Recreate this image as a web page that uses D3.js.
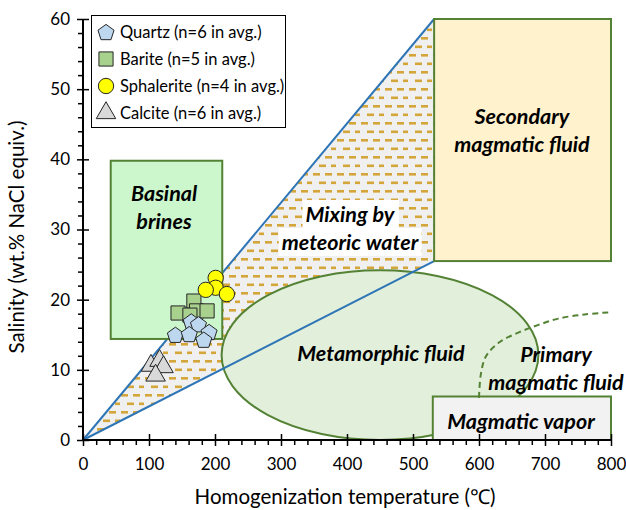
<!DOCTYPE html>
<html>
<head>
<meta charset="utf-8">
<script src="https://cdn.jsdelivr.net/npm/d3@7/dist/d3.min.js"></script>
<style>
  html, body { margin: 0; padding: 0; background: #fff; }
  svg { display: block; font-family: Lato, "Open Sans", sans-serif; }
</style>
</head>
<body>
<svg id="chart" width="626" height="510"></svg>
<script>
// ---- data ----
const quartzT = [164, 175, 140, 161, 191, 183];
const quartzS = [16.9, 16.5, 15.0, 15.1, 15.4, 14.3];
const bariteT = [168, 144, 172, 188, 162];
const bariteS = [19.8, 18.1, 18.4, 18.4, 17.8];
const sphaleriteT = [201, 201, 186, 218];
const sphaleriteS = [23.1, 21.7, 21.4, 20.8];
const calciteT = [103, 116, 122, 110];
const calciteS = [10.6, 11.3, 10.4, 9.2];

const legendLabels = ["Quartz (n=6 in avg.)", "Barite (n=5 in avg.)", "Sphalerite (n=4 in avg.)", "Calcite (n=6 in avg.)"];

const xTicks = [0, 100, 200, 300, 400, 500, 600, 700, 800];
const yTicks = [0, 10, 20, 30, 40, 50, 60];

// fluid fields (temperature °C, salinity wt.%)
const mixingT = [0, 532, 532];
const mixingS = [0, 60, 25.5];
const basinalT = [42, 211];
const basinalS = [14.4, 39.8];
const secondaryT = [532, 800];
const secondaryS = [25.5, 60];
const vaporT = [530, 800];
const vaporS = [0, 6.2];
const metamorphicT = [210, 690];   // left / right extent
const metamorphicS = [0, 24.2];    // bottom / top extent
const primaryT = [600, 603, 611, 632, 662, 690, 720, 760, 800];
const primaryS = [6, 9.5, 12, 14, 15.4, 16.4, 17.3, 17.9, 18.2];

// ---- scales ----
const svg = d3.select("#chart");
const x = d3.scaleLinear().domain([0, 800]).range([83, 611]);
const y = d3.scaleLinear().domain([0, 60]).range([440, 19]);

const green = "#548235";

// dash pattern for the mixing field
const defs = svg.append("defs");
const pat = defs.append("pattern")
  .attr("id", "hatch").attr("patternUnits", "userSpaceOnUse")
  .attr("width", 24).attr("height", 17);
pat.append("rect").attr("width", 24).attr("height", 17).attr("fill", "#f0f0f0");
[[1, 3], [13, 3], [7, 11.5], [19, 11.5]].forEach(d => {
  pat.append("rect").attr("x", d[0]).attr("y", d[1]).attr("width", 7).attr("height", 2.6).attr("fill", "#d4a63a");
});

const g = svg.append("g");

// mixing triangle
g.append("path")
  .attr("d", d3.line()(mixingT.map((t, i) => [x(t), y(mixingS[i])])) + "Z")
  .attr("fill", "url(#hatch)");

// metamorphic ellipse
const ecx = (metamorphicT[0] + metamorphicT[1]) / 2;
const ecy = (metamorphicS[0] + metamorphicS[1]) / 2;
g.append("ellipse")
  .attr("cx", x(ecx)).attr("cy", y(ecy))
  .attr("rx", x(metamorphicT[1]) - x(ecx))
  .attr("ry", y(metamorphicS[0]) - y(ecy))
  .attr("fill", "#e2efda").attr("stroke", green).attr("stroke-width", 2);

// mixing boundary lines
[[mixingT[1], mixingS[1]], [mixingT[2], mixingS[2]]].forEach(p => {
  g.append("line")
    .attr("x1", x(0)).attr("y1", y(0))
    .attr("x2", x(p[0])).attr("y2", y(p[1]))
    .attr("stroke", "#2e75b6").attr("stroke-width", 2);
});

// rectangular fields
function field(T, S, fill) {
  g.append("rect")
    .attr("x", x(T[0])).attr("y", y(S[1]))
    .attr("width", x(T[1]) - x(T[0])).attr("height", y(S[0]) - y(S[1]))
    .attr("fill", fill).attr("stroke", green).attr("stroke-width", 2);
}
field(basinalT, basinalS, "#ccf7cc");
field(secondaryT, secondaryS, "#fff2cc");
field(vaporT, vaporS, "#f2f2f2");

// primary magmatic fluid boundary
g.append("path")
  .attr("d", d3.line().curve(d3.curveCatmullRom)(primaryT.map((t, i) => [x(t), y(primaryS[i])])))
  .attr("fill", "none").attr("stroke", green).attr("stroke-width", 2)
  .attr("stroke-dasharray", "6,4");

// ---- axes ----
const xMinor = d3.range(0, 801, 20).filter(v => v % 100 !== 0);
const yMinor = d3.range(0, 61, 2).filter(v => v % 10 !== 0);

const xAxisMinor = svg.append("g").attr("transform", `translate(0,${y(0)})`)
  .call(d3.axisBottom(x).tickValues(xMinor).tickSize(5).tickFormat(""));
const xAxis = svg.append("g").attr("transform", `translate(0,${y(0)})`)
  .call(d3.axisBottom(x).tickValues(xTicks).tickSize(6).tickPadding(12));
xAxis.selectAll(".tick line").attr("y1", -6);
const yAxisMinor = svg.append("g").attr("transform", `translate(${x(0)},0)`)
  .call(d3.axisLeft(y).tickValues(yMinor).tickSize(5).tickFormat(""));
const yAxis = svg.append("g").attr("transform", `translate(${x(0)},0)`)
  .call(d3.axisLeft(y).tickValues(yTicks).tickSize(6).tickPadding(7));
yAxis.selectAll(".tick line").attr("x1", 6);

[xAxisMinor, xAxis, yAxisMinor, yAxis].forEach(a => {
  a.select(".domain").remove();
  a.selectAll(".tick line").attr("stroke", "#000").attr("stroke-width", 1.5);
  a.selectAll("text").attr("font-size", 17).attr("font-family", "Lato, sans-serif").attr("fill", "#000");
});
svg.append("line").attr("x1", x(0)).attr("x2", x(800)).attr("y1", y(0)).attr("y2", y(0))
  .attr("stroke", "#000").attr("stroke-width", 2);
svg.append("line").attr("x1", x(0)).attr("x2", x(0)).attr("y1", y(0)).attr("y2", y(60))
  .attr("stroke", "#000").attr("stroke-width", 2);

svg.append("text").attr("x", 345).attr("y", 504).attr("text-anchor", "middle")
  .attr("font-size", 20.5).text("Homogenization temperature (\u2103)");
svg.append("text").attr("transform", "translate(24,237) rotate(-90)").attr("text-anchor", "middle")
  .attr("font-size", 20.5).text("Salinity (wt.% NaCl equiv.)");

// ---- field labels ----
function label(lines, cx, cy, size, bg) {
  lines.forEach((s, i) => {
    const t = g.append("text")
      .attr("x", cx).attr("y", cy + i * size * 1.3)
      .attr("text-anchor", "middle").attr("dominant-baseline", "central")
      .attr("font-size", size).attr("font-weight", "bold").attr("font-style", "italic")
      .text(s);
    if (bg) {
      const b = t.node().getBBox();
      g.insert("rect", () => t.node())
        .attr("x", b.x - 3).attr("y", b.y - 1).attr("width", b.width + 6).attr("height", b.height + 2)
        .attr("fill", "#fff");
    }
  });
}
label(["Basinal", "brines"], 164, 193, 21.5);
label(["Secondary", "magmatic fluid"], 522, 116, 21.5);
label(["Mixing by", "meteoric water"], 350, 214, 21.5, true);
label(["Metamorphic fluid"], 381, 353, 21.5);
label(["Primary", "magmatic fluid"], 556, 354, 21.5);
label(["Magmatic vapor"], 521, 421, 21.5);

// ---- symbols ----
const pentagon = {
  draw(ctx, size) {
    const r = Math.sqrt(size / 2.3776);
    for (let i = 0; i < 5; i++) {
      const a = -Math.PI / 2 + i * 2 * Math.PI / 5;
      const px = r * Math.cos(a), py = r * Math.sin(a) + r * 0.1;
      if (i === 0) ctx.moveTo(px, py); else ctx.lineTo(px, py);
    }
    ctx.closePath();
  }
};
const series = [
  { T: bariteT, S: bariteS, type: d3.symbolSquare, size: 200, fill: "#a9d18e" },
  { T: quartzT, S: quartzS, type: pentagon, size: 170, fill: "#bdd7ee" },
  { T: sphaleriteT, S: sphaleriteS, type: d3.symbolCircle, size: 185, fill: "#ffff00" },
  { T: calciteT, S: calciteS, type: d3.symbolTriangle, size: 165, fill: "#d9d9d9" }
];
series.forEach(s => {
  g.append("g").selectAll("path").data(s.T).join("path")
    .attr("transform", (t, i) => `translate(${x(t)},${y(s.S[i])})`)
    .attr("d", d3.symbol().type(s.type).size(s.size))
    .attr("fill", s.fill).attr("stroke", "#262626").attr("stroke-width", 1);
});

// ---- legend ----
const lg = svg.append("g");
lg.append("rect").attr("x", 91.5).attr("y", 15.5).attr("width", 194).attr("height", 112)
  .attr("fill", "#fff").attr("stroke", "#000").attr("stroke-width", 1);
const legendSym = [series[1], series[0], series[2], series[3]];
legendLabels.forEach((txt, i) => {
  const cy = 32 + i * 27;
  const s = legendSym[i];
  lg.append("path").attr("transform", `translate(106,${cy})`)
    .attr("d", d3.symbol().type(s.type).size(s.size))
    .attr("fill", s.fill).attr("stroke", "#262626").attr("stroke-width", 1);
  lg.append("text").attr("x", 120).attr("y", cy).attr("dominant-baseline", "central")
    .attr("font-size", 16.5).text(txt);
});
</script>
</body>
</html>
